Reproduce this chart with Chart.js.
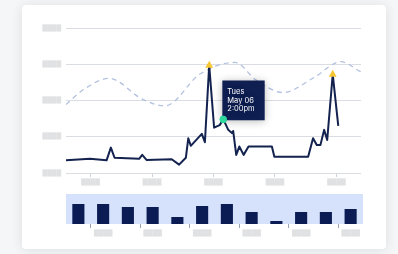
<!DOCTYPE html>
<html><head><meta charset="utf-8">
<script src="https://cdn.jsdelivr.net/npm/chart.js@4"></script>
<style>
html,body{margin:0;padding:0;background:#f5f6f7;width:398px;height:254px;overflow:hidden}
#card{position:absolute;left:22px;top:5px;width:364px;height:244px;background:#fff;border-radius:4px;box-shadow:0 1px 12px rgba(0,0,0,0.10)}
canvas{position:absolute;left:0;top:0;width:398px;height:254px}
</style></head><body>
<div id="card"></div>
<canvas id="line" width="398" height="254"></canvas>
<canvas id="bars" width="398" height="254"></canvas>
<script>
// ---- data ----
const lineX = [0, 3.9, 6.6, 7.3, 7.9, 11.9, 12.4, 13.1, 17.2, 18.4, 19.5, 19.9, 20.3, 22.1, 22.6, 23.3, 24.1, 25.0, 25.6, 26.4, 27.0, 27.2, 27.7, 28.2, 28.9, 29.7, 33.5, 33.9, 39.4, 40.2, 40.8, 41.4, 42.0, 42.5, 43.4, 44.3];
const lineY = [0.35, 0.39, 0.35, 0.70, 0.42, 0.39, 0.50, 0.36, 0.38, 0.23, 0.42, 0.96, 0.75, 1.08, 0.85, 2.97, 1.25, 1.32, 1.48, 1.19, 1.10, 1.16, 0.50, 0.73, 0.50, 0.73, 0.73, 0.45, 0.45, 0.96, 0.77, 0.77, 1.19, 0.91, 2.72, 1.30];
const peakIndex = [15, 34];
const highlightIndex = 18;
const tooltipLines = ['Tues', 'May 06', '2:00pm'];

const trendX = [0, 3, 7.0, 12.5, 16.1, 21.8, 27.5, 30.9, 35.3, 40.5, 44.7, 48];
const trendY = [1.89, 2.32, 2.61, 2.03, 1.85, 2.73, 3.05, 2.57, 2.22, 2.65, 3.07, 2.79];

const xTickValues = [4, 14, 24, 34, 44];
const BLOCK = '\u2588\u2588\u2588\u2588';
const xTickLabels = [BLOCK, BLOCK, BLOCK, BLOCK, BLOCK];
const yTickLabels = [BLOCK, BLOCK, BLOCK, BLOCK, BLOCK];

const barValues = [20, 20, 17, 17, 7, 18, 20, 12, 3, 12, 12, 15];
const barTickLabels = ['', BLOCK, '', BLOCK, '', BLOCK, '', BLOCK, '', BLOCK, '', BLOCK];

// ---- styles ----
const NAVY = '#13224f';
const BAR = '#0b1c55';
const LABEL = '#e0e1e3';
const GRID = '#dadde1';
const TICK_FONT = {family: 'DejaVu Sans', size: 6};

Chart.Tooltip.positioners.atPoint = function (items) {
  if (!items.length) return false;
  const el = items[0].element;
  return {x: el.x - 1, y: el.y + 1};
};

const overlay = {
  id: 'overlay',
  beforeTooltipDraw(chart) {
    const ctx = chart.ctx;
    ctx.save();
    ctx.shadowColor = 'rgba(0,0,0,0.28)';
    ctx.shadowBlur = 8;
    ctx.shadowOffsetY = 1;
  },
  afterTooltipDraw(chart) {
    chart.ctx.restore();
    const el = chart.getDatasetMeta(0).data[highlightIndex];
    el.draw(chart.ctx, chart.chartArea);
  }
};

const lineChart = new Chart(document.getElementById('line'), {
  type: 'line',
  data: {
    datasets: [{
      data: lineX.map((x, i) => ({x, y: lineY[i]})),
      borderColor: NAVY,
      borderWidth: 2,
      borderJoinStyle: 'round',
      tension: 0,
      pointRadius: c => c.index === highlightIndex ? 3.6 : (peakIndex.includes(c.index) ? 4.6 : 0),
      pointStyle: c => c.index === highlightIndex ? 'circle' : 'triangle',
      pointBackgroundColor: c => c.index === highlightIndex ? '#2ed79c' : '#f7c634',
      pointBorderColor: c => c.index === highlightIndex ? '#2ed79c' : '#f7c634',
      pointBorderWidth: 0
    }, {
      data: trendX.map((x, i) => ({x, y: trendY[i]})),
      borderColor: '#b2c1df',
      borderWidth: 1.3,
      borderDash: [5, 4],
      cubicInterpolationMode: 'monotone',
      pointRadius: 0
    }]
  },
  options: {
    responsive: false,
    animation: false,
    events: [],
    devicePixelRatio: 1,
    layout: {padding: {left: 0, top: 28, right: 37, bottom: 0}},
    plugins: {
      legend: {display: false},
      tooltip: {
        enabled: true,
        position: 'atPoint',
        xAlign: 'left',
        yAlign: 'bottom',
        caretSize: 0,
        caretPadding: 0,
        cornerRadius: 0,
        displayColors: false,
        backgroundColor: '#0f1f52',
        bodyColor: '#ffffff',
        bodySpacing: 0,
        bodyFont: {family: 'Inter', size: 7.5, lineHeight: '8.6px'},
        padding: {top: 7, bottom: 7, left: 5, right: 10},
        callbacks: {
          title: () => '',
          label: () => tooltipLines
        }
      }
    },
    scales: {
      x: {
        type: 'linear', min: 0, max: 48,
        afterBuildTicks: s => { s.ticks = xTickValues.map(v => ({value: v})); },
        afterFit: s => { s.height = 81; },
        ticks: {callback: (v, i) => xTickLabels[i], color: LABEL, font: TICK_FONT, padding: 2, maxRotation: 0, autoSkip: false},
        grid: {drawOnChartArea: false, drawTicks: true, tickLength: 4, tickColor: '#cfd2d6'},
        border: {display: false}
      },
      y: {
        min: 0, max: 4,
        afterFit: s => { s.width = 66; },
        ticks: {stepSize: 1, callback: (v, i) => yTickLabels[i], color: LABEL, font: TICK_FONT, padding: 5},
        grid: {color: GRID, lineWidth: 1, drawTicks: false},
        border: {display: false}
      }
    }
  },
  plugins: [overlay]
});
lineChart.tooltip.setActiveElements([{datasetIndex: 0, index: highlightIndex}], {x: 0, y: 0});
lineChart.update();

const bandBg = {
  id: 'bandBg',
  beforeDatasetsDraw(chart) {
    const a = chart.chartArea, ctx = chart.ctx;
    ctx.save();
    ctx.fillStyle = '#d6e2fb';
    ctx.fillRect(a.left, a.top, a.right - a.left, a.bottom - a.top);
    ctx.restore();
  }
};

new Chart(document.getElementById('bars'), {
  type: 'bar',
  data: {
    labels: barTickLabels,
    datasets: [{data: barValues, backgroundColor: BAR, barPercentage: 0.49, categoryPercentage: 1}]
  },
  options: {
    responsive: false,
    animation: false,
    events: [],
    devicePixelRatio: 1,
    layout: {padding: {left: 66, top: 194, right: 35, bottom: 0}},
    plugins: {legend: {display: false}, tooltip: {enabled: false}},
    scales: {
      x: {
        afterFit: s => { s.height = 30; },
        ticks: {color: LABEL, font: TICK_FONT, padding: 2, maxRotation: 0, autoSkip: false},
        grid: {drawOnChartArea: false, drawTicks: true, tickLength: 4,
               tickColor: c => barTickLabels[c.index] ? '#9aa3b5' : 'rgba(0,0,0,0)'},
        border: {display: false}
      },
      y: {display: false, min: 0, max: 30}
    }
  },
  plugins: [bandBg]
});
</script>
</body></html>
